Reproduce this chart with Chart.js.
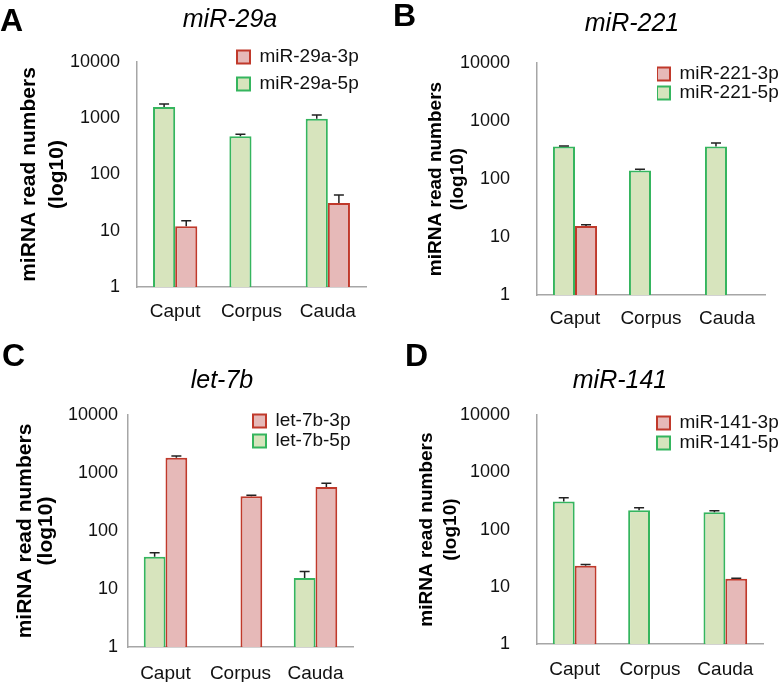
<!DOCTYPE html>
<html>
<head>
<meta charset="utf-8">
<script src="https://cdn.jsdelivr.net/npm/chart.js@4/dist/chart.umd.min.js"></script>
<style>
  body { margin: 0; background: #fff; }
  #wrap { position: relative; width: 780px; height: 682px; overflow: hidden; font-family: "Liberation Sans", Arial, sans-serif; }
  .panel { position: absolute; width: 390px; height: 341px; }
  .letter { position: absolute; font-size: 32px; font-weight: bold; line-height: 1; color: #000; }
  .ttl { position: absolute; width: 200px; text-align: center; font-size: 25px; font-style: italic; line-height: 1; color: #000; }
</style>
</head>
<body>
<div id="wrap">
  <div class="panel" style="left:0;top:0"><canvas id="cA" width="390" height="341"></canvas></div>
  <div class="panel" style="left:390px;top:0"><canvas id="cB" width="390" height="341"></canvas></div>
  <div class="panel" style="left:0;top:341px"><canvas id="cC" width="390" height="341"></canvas></div>
  <div class="panel" style="left:390px;top:341px"><canvas id="cD" width="390" height="341"></canvas></div>
  <div class="letter" style="left:0;top:4px">A</div>
  <div class="letter" style="left:393px;top:-1px">B</div>
  <div class="letter" style="left:2px;top:339px">C</div>
  <div class="letter" style="left:405px;top:339px">D</div>
  <div class="ttl" style="left:130px;top:6px">miR-29a</div>
  <div class="ttl" style="left:532px;top:10px">miR-221</div>
  <div class="ttl" style="left:122px;top:367px">let-7b</div>
  <div class="ttl" style="left:520px;top:367px">miR-141</div>
</div>
<script>
// shared axis values
var categories = ['Caput', 'Corpus', 'Cauda'];
var yTicks = [1, 10, 100, 1000, 10000];

// miR-29a
var miR29a5p = [1585, 478, 982];
var miR29a5pErr = [205, 40, 160];
var miR29a3p = [12, null, 31];
var miR29a3pErr = [3.1, 0, 12];

// miR-221
var miR2215p = [362, 140, 362];
var miR2215pErr = [8, 7, 55];
var miR2213p = [15.5, null, null];
var miR2213pErr = [0.8, 0, 0];

// let-7b
var let7b5p = [36, null, 15.5];
var let7b5pErr = [6, 0, 4.5];
var let7b3p = [1836, 396, 574];
var let7b3pErr = [127, 16, 90];

// miR-141
var miR1415p = [310, 217, 200];
var miR1415pErr = [48, 23, 14];
var miR1413p = [23.5, null, 13.9];
var miR1413pErr = [1, 0, 0.2];

var GREEN_FILL = '#d7e4bd', GREEN_LINE = '#35b55e';
var RED_FILL = '#e6b9b8', RED_LINE = '#c0392b';
var AXIS = '#a6a6a6', TEXT = '#111';
var FONT = '"Liberation Sans", Arial, sans-serif';

// draws the upward error whiskers
var errorBars = {
  id: 'errorBars',
  afterDatasetsDraw: function(chart) {
    var ctx = chart.ctx, y = chart.scales.y;
    chart.data.datasets.forEach(function(ds, i) {
      var meta = chart.getDatasetMeta(i);
      meta.data.forEach(function(bar, j) {
        var v = ds.data[j], e = ds.err ? ds.err[j] : 0;
        if (v == null || !e) return;
        var top = y.getPixelForValue(v + e);
        ctx.save();
        ctx.strokeStyle = '#222';
        ctx.lineWidth = 1.5;
        ctx.beginPath();
        ctx.moveTo(bar.x, bar.y);
        ctx.lineTo(bar.x, top);
        ctx.moveTo(bar.x - 5, top);
        ctx.lineTo(bar.x + 5, top);
        ctx.stroke();
        ctx.restore();
      });
    });
  }
};

// move the legend box to where the figure has it
var legendPlace = {
  id: 'legendPlace',
  afterLayout: function(chart, args, opts) {
    var lg = chart.legend;
    if (!lg) return;
    var pad = chart.options.plugins.legend.labels.padding;
    var fs = chart.options.plugins.legend.labels.font.size;
    var w = lg.width, h = lg.height;
    lg.left = opts.x - pad;
    lg.right = lg.left + w;
    lg.top = opts.y - fs / 2 - pad;
    lg.bottom = lg.top + h;
  }
};

function makePanel(id, p) {
  new Chart(document.getElementById(id), {
    type: 'bar',
    data: {
      labels: categories,
      datasets: [
        { label: p.name + '-5p', data: p.d5, err: p.e5, backgroundColor: GREEN_FILL, borderColor: GREEN_LINE, borderWidth: 2 },
        { label: p.name + '-3p', data: p.d3, err: p.e3, backgroundColor: RED_FILL, borderColor: RED_LINE, borderWidth: 2 }
      ]
    },
    options: {
      responsive: false,
      animation: false,
      devicePixelRatio: 1,
      layout: { padding: { left: 0, top: p.top, right: 390 - p.right, bottom: 0 } },
      datasets: { bar: { categoryPercentage: 0.58, barPercentage: 1.0 } },
      plugins: {
        legend: {
          position: 'chartArea',
          align: 'start',
          reverse: true,
          labels: { boxWidth: 13, boxHeight: 13, padding: p.legPad, color: TEXT, font: { family: FONT, size: 19 } }
        },
        legendPlace: { x: p.legX, y: p.legY },
        tooltip: { enabled: false }
      },
      scales: {
        x: {
          grid: { display: false, drawTicks: false },
          border: { display: true, color: AXIS, width: 1.5 },
          ticks: { color: TEXT, padding: p.xPad, font: { family: FONT, size: 19 } },
          afterFit: function(s) { s.height = 341 - p.bottom; }
        },
        y: {
          type: 'logarithmic',
          min: 1,
          max: 10000,
          grid: { display: false, drawTicks: false },
          border: { display: true, color: AXIS, width: 1.5 },
          afterBuildTicks: function(s) { s.ticks = yTicks.map(function(v) { return { value: v }; }); },
          ticks: {
            color: TEXT, padding: p.yPad, font: { family: FONT, size: 18 },
            callback: function(v) { return String(v); }
          },
          title: {
            display: true,
            text: ['miRNA read numbers', '(log10)'],
            color: '#000',
            padding: { top: p.tPad, bottom: 0 },
            font: { family: FONT, size: p.tSize, weight: 'bold', lineHeight: p.tLH }
          },
          afterFit: function(s) { s.width = p.left; }
        }
      }
    },
    plugins: [errorBars, legendPlace]
  });
}

makePanel('cA', { name: 'miR-29a', d5: miR29a5p, e5: miR29a5pErr, d3: miR29a3p, e3: miR29a3pErr,
  left: 137, right: 366, top: 62, bottom: 287, yPad: 17, xPad: 13, tSize: 21, tLH: 1.3, tPad: 16,
  legX: 237, legY: 57, legPad: 8 });
makePanel('cB', { name: 'miR-221', d5: miR2215p, e5: miR2215pErr, d3: miR2213p, e3: miR2213pErr,
  left: 147, right: 375, top: 63, bottom: 295, yPad: 27, xPad: 12, tSize: 19, tLH: 1.15, tPad: 35,
  legX: 267, legY: 74, legPad: 0 });
makePanel('cC', { name: 'let-7b', d5: let7b5p, e5: let7b5pErr, d3: let7b3p, e3: let7b3pErr,
  left: 128, right: 353, top: 74, bottom: 306, yPad: 10, xPad: 15, tSize: 21, tLH: 1.0, tPad: 15,
  legX: 253, legY: 80, legPad: 1 });
makePanel('cD', { name: 'miR-141', d5: miR1415p, e5: miR1415pErr, d3: miR1413p, e3: miR1413pErr,
  left: 147, right: 763 - 390, top: 74, bottom: 305, yPad: 27, xPad: 14, tSize: 19, tLH: 1.25, tPad: 25,
  legX: 267, legY: 82, legPad: 1 });
</script>
</body>
</html>
